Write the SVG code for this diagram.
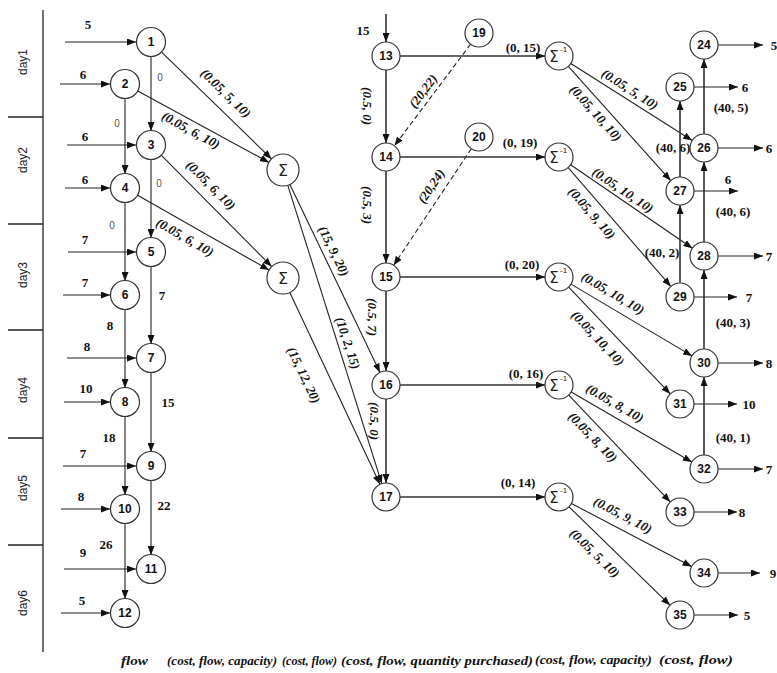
<svg xmlns="http://www.w3.org/2000/svg" width="777" height="673" viewBox="0 0 777 673">
<style>
.bg{fill:#fff}
.ax{stroke:#222;stroke-width:1.3;fill:none}
.e{stroke:#222;stroke-width:1.1;fill:none}
.et{stroke:#333;stroke-width:1.6;fill:none}
.d{stroke:#222;stroke-width:1.1;fill:none;stroke-dasharray:5,3}
.n{fill:#fff;stroke:#333;stroke-width:1.2}
.nn{font-family:"Liberation Sans",Arial,sans-serif;font-weight:bold;font-size:12px;text-anchor:middle;fill:#111}
.in{font-family:"Liberation Serif","Times New Roman",serif;font-weight:bold;font-size:13px;text-anchor:middle;fill:#111}
.el{font-family:"Liberation Serif","Times New Roman",serif;font-weight:bold;font-style:italic;font-size:13px;text-anchor:middle;fill:#111}
.lb{font-family:"Liberation Serif","Times New Roman",serif;font-weight:bold;font-size:13px;text-anchor:middle;fill:#111}
.z{font-family:"Liberation Sans",Arial,sans-serif;font-size:10px;text-anchor:middle;fill:#555}
.day{font-family:"Liberation Sans",Arial,sans-serif;font-size:12px;text-anchor:middle;fill:#222}
.sg{font-family:"DejaVu Sans","Liberation Sans",sans-serif;font-size:16px;text-anchor:middle;fill:#222}
.sgi{font-family:"DejaVu Sans","Liberation Sans",sans-serif;font-size:15px;text-anchor:middle;fill:#222}
.sup{font-family:"Liberation Sans",Arial,sans-serif;font-size:8px;fill:#222}
.lg{font-family:"Liberation Serif","Times New Roman",serif;font-weight:bold;font-style:italic;font-size:12px;fill:#111}
</style>
<defs>
<marker id="ah" viewBox="0 0 9 7" refX="9" refY="3.5" markerWidth="9" markerHeight="7" markerUnits="userSpaceOnUse" orient="auto"><path d="M0,0 L9,3.5 L0,7 z" fill="#111"/></marker>
</defs>
<rect class="bg" x="0" y="0" width="777" height="673"/>

<g id="axis">
<line class="ax" x1="43" y1="10" x2="43" y2="652"/>
<line class="ax" x1="8" y1="117" x2="43" y2="117"/>
<line class="ax" x1="8" y1="224" x2="43" y2="224"/>
<line class="ax" x1="8" y1="330" x2="43" y2="330"/>
<line class="ax" x1="8" y1="438" x2="43" y2="438"/>
<line class="ax" x1="8" y1="545" x2="43" y2="545"/>
<text class="day" transform="translate(23,62) rotate(-90)" dy="0.35em">day1</text>
<text class="day" transform="translate(23,160) rotate(-90)" dy="0.35em">day2</text>
<text class="day" transform="translate(23,275) rotate(-90)" dy="0.35em">day3</text>
<text class="day" transform="translate(23,390) rotate(-90)" dy="0.35em">day4</text>
<text class="day" transform="translate(23,488) rotate(-90)" dy="0.35em">day5</text>
<text class="day" transform="translate(23,603) rotate(-90)" dy="0.35em">day6</text>
</g>

<g id="connectors">
<!-- left inputs -->
<line class="e" x1="65" y1="42" x2="136" y2="42" marker-end="url(#ah)"/>
<line class="e" x1="60" y1="84" x2="110" y2="84" marker-end="url(#ah)"/>
<line class="e" x1="67" y1="145" x2="136" y2="145" marker-end="url(#ah)"/>
<line class="e" x1="65" y1="188" x2="110" y2="188" marker-end="url(#ah)"/>
<line class="e" x1="68" y1="252" x2="136" y2="252" marker-end="url(#ah)"/>
<line class="e" x1="63" y1="295" x2="110" y2="295" marker-end="url(#ah)"/>
<line class="e" x1="67" y1="358" x2="136" y2="358" marker-end="url(#ah)"/>
<line class="e" x1="64" y1="402" x2="110" y2="402" marker-end="url(#ah)"/>
<line class="e" x1="63" y1="466" x2="136" y2="466" marker-end="url(#ah)"/>
<line class="e" x1="61" y1="509" x2="110" y2="509" marker-end="url(#ah)"/>
<line class="e" x1="64" y1="569" x2="136" y2="569" marker-end="url(#ah)"/>
<line class="e" x1="61" y1="613" x2="110" y2="613" marker-end="url(#ah)"/>
<text class="in" x="88" y="29">5</text>
<text class="in" x="83" y="79">6</text>
<text class="in" x="85" y="141">6</text>
<text class="in" x="85" y="184">6</text>
<text class="in" x="85" y="244">7</text>
<text class="in" x="85" y="287">7</text>
<text class="in" x="87" y="351">8</text>
<text class="in" x="86" y="393">10</text>
<text class="in" x="83" y="458">7</text>
<text class="in" x="81" y="501">8</text>
<text class="in" x="83" y="557">9</text>
<text class="in" x="82" y="605">5</text>
<!-- left verticals -->
<line class="e" x1="151" y1="56" x2="151" y2="131" marker-end="url(#ah)"/>
<line class="e" x1="151" y1="159" x2="151" y2="238" marker-end="url(#ah)"/>
<line class="e" x1="151" y1="266" x2="151" y2="344" marker-end="url(#ah)"/>
<line class="e" x1="151" y1="372" x2="151" y2="452" marker-end="url(#ah)"/>
<line class="e" x1="151" y1="480" x2="151" y2="555" marker-end="url(#ah)"/>
<line class="e" x1="125" y1="98" x2="125" y2="174" marker-end="url(#ah)"/>
<line class="e" x1="125" y1="202" x2="125" y2="281" marker-end="url(#ah)"/>
<line class="e" x1="125" y1="309" x2="125" y2="388" marker-end="url(#ah)"/>
<line class="e" x1="125" y1="416" x2="125" y2="495" marker-end="url(#ah)"/>
<line class="e" x1="125" y1="523" x2="125" y2="599" marker-end="url(#ah)"/>
<text class="z" x="160" y="81">0</text>
<text class="z" x="117" y="127">0</text>
<text class="z" x="159" y="187">0</text>
<text class="z" x="112" y="229">0</text>
<text class="in" x="162" y="300">7</text>
<text class="in" x="110" y="330">8</text>
<text class="in" x="168" y="407">15</text>
<text class="in" x="109" y="442">18</text>
<text class="in" x="164" y="510">22</text>
<text class="in" x="106" y="549">26</text>
<!-- to sigma -->
<line class="e" x1="161.1" y1="51.7" x2="271.5" y2="158.9" marker-end="url(#ah)"/>
<line class="e" x1="137.3" y1="90.7" x2="269.0" y2="162.4" marker-end="url(#ah)"/>
<line class="e" x1="160.9" y1="154.9" x2="271.7" y2="266.6" marker-end="url(#ah)"/>
<line class="e" x1="137.2" y1="194.9" x2="269.1" y2="270.1" marker-end="url(#ah)"/>
<text class="el" transform="translate(226,93) rotate(44)" dy="0.35em">(0.05, 5, 10)</text>
<text class="el" transform="translate(191,130) rotate(28.5)" dy="0.35em">(0.05, 6, 10)</text>
<text class="el" transform="translate(211,185) rotate(45)" dy="0.35em">(0.05, 6, 10)</text>
<text class="el" transform="translate(185,237) rotate(29.7)" dy="0.35em">(0.05, 6, 10)</text>
<!-- sigma to 16/17 -->
<line class="e" x1="289.9" y1="184.4" x2="380.0" y2="372.4" marker-end="url(#ah)"/>
<line class="e" x1="287.8" y1="185.3" x2="381.8" y2="483.6" marker-end="url(#ah)"/>
<line class="e" x1="289.8" y1="292.5" x2="380.0" y2="484.3" marker-end="url(#ah)"/>
<text class="el" transform="translate(334,251) rotate(64)" dy="0.35em">(15, 9, 20)</text>
<text class="el" transform="translate(348,343) rotate(72)" dy="0.35em">(10, 2, 15)</text>
<text class="el" transform="translate(304,375) rotate(64.4)" dy="0.35em">(15, 12, 20)</text>
<!-- center column -->
<line class="et" x1="386" y1="14" x2="386" y2="42" marker-end="url(#ah)"/>
<text class="in" x="363" y="35">15</text>
<line class="et" x1="386" y1="70" x2="386" y2="143" marker-end="url(#ah)"/>
<line class="et" x1="386" y1="171" x2="386" y2="263" marker-end="url(#ah)"/>
<line class="et" x1="386" y1="291" x2="386" y2="371" marker-end="url(#ah)"/>
<line class="et" x1="386" y1="399" x2="386" y2="483" marker-end="url(#ah)"/>
<text class="el" transform="translate(368,106) rotate(90)" dy="0.35em">(0.5, 0)</text>
<text class="el" transform="translate(368,205) rotate(90)" dy="0.35em">(0.5, 3)</text>
<text class="el" transform="translate(373,317) rotate(90)" dy="0.35em">(0.5, 7)</text>
<text class="el" transform="translate(375,421) rotate(90)" dy="0.35em">(0.5, 0)</text>
<line class="d" x1="470.6" y1="44.2" x2="394.4" y2="145.8" marker-end="url(#ah)"/>
<line class="d" x1="471.3" y1="148.7" x2="393.7" y2="265.3" marker-end="url(#ah)"/>
<text class="el" transform="translate(423,91) rotate(-53)" dy="0.35em">(20,22)</text>
<text class="el" transform="translate(431,186) rotate(-56)" dy="0.35em">(20,24)</text>
<!-- to inverse sigma -->
<line class="et" x1="400" y1="56" x2="545" y2="56" marker-end="url(#ah)"/>
<line class="et" x1="400" y1="157" x2="545" y2="157" marker-end="url(#ah)"/>
<line class="et" x1="400" y1="277" x2="545" y2="277" marker-end="url(#ah)"/>
<line class="et" x1="400" y1="385" x2="545" y2="385" marker-end="url(#ah)"/>
<line class="et" x1="400" y1="497" x2="545" y2="497" marker-end="url(#ah)"/>
<text class="lb" x="523" y="52">(0, 15)</text>
<text class="lb" x="520" y="147">(0, 19)</text>
<text class="lb" x="522" y="269">(0, 20)</text>
<text class="lb" x="526" y="378">(0, 16)</text>
<text class="lb" x="518" y="487">(0, 14)</text>
<!-- inverse sigma to right -->
<line class="e" x1="570.8" y1="63.5" x2="692.2" y2="140.5" marker-end="url(#ah)"/>
<line class="e" x1="568.3" y1="66.4" x2="670.7" y2="180.6" marker-end="url(#ah)"/>
<line class="e" x1="570.6" y1="164.8" x2="692.4" y2="248.2" marker-end="url(#ah)"/>
<line class="e" x1="568.2" y1="167.6" x2="670.8" y2="286.4" marker-end="url(#ah)"/>
<line class="e" x1="571.0" y1="284.1" x2="692.0" y2="355.9" marker-end="url(#ah)"/>
<line class="e" x1="568.7" y1="287.1" x2="670.3" y2="393.9" marker-end="url(#ah)"/>
<line class="e" x1="571.2" y1="392.0" x2="691.8" y2="462.0" marker-end="url(#ah)"/>
<line class="e" x1="568.7" y1="395.1" x2="670.3" y2="501.9" marker-end="url(#ah)"/>
<line class="e" x1="571.4" y1="503.5" x2="691.6" y2="566.5" marker-end="url(#ah)"/>
<line class="e" x1="569.0" y1="506.8" x2="670.0" y2="605.2" marker-end="url(#ah)"/>
<text class="el" transform="translate(630,89) rotate(32.4)" dy="0.35em">(0.05, 5, 10)</text>
<text class="el" transform="translate(596,113) rotate(48)" dy="0.35em">(0.05, 10, 10)</text>
<text class="el" transform="translate(623,190) rotate(34)" dy="0.35em">(0.05, 10, 10)</text>
<text class="el" transform="translate(592,213) rotate(49)" dy="0.35em">(0.05, 9, 10)</text>
<text class="el" transform="translate(613,293) rotate(30.7)" dy="0.35em">(0.05, 10, 10)</text>
<text class="el" transform="translate(598,338) rotate(46.4)" dy="0.35em">(0.05, 10, 10)</text>
<text class="el" transform="translate(615,403) rotate(29.8)" dy="0.35em">(0.05, 8, 10)</text>
<text class="el" transform="translate(593,437) rotate(46)" dy="0.35em">(0.05, 8, 10)</text>
<text class="el" transform="translate(623,515) rotate(27.7)" dy="0.35em">(0.05, 9, 10)</text>
<text class="el" transform="translate(595,553) rotate(44.3)" dy="0.35em">(0.05, 5, 10)</text>
<!-- right verticals -->
<line class="et" x1="704" y1="134" x2="704" y2="59" marker-end="url(#ah)"/>
<line class="et" x1="680" y1="177" x2="680" y2="101" marker-end="url(#ah)"/>
<line class="et" x1="704" y1="242" x2="704" y2="162" marker-end="url(#ah)"/>
<line class="et" x1="680" y1="283" x2="680" y2="205" marker-end="url(#ah)"/>
<line class="et" x1="704" y1="349" x2="704" y2="270" marker-end="url(#ah)"/>
<line class="et" x1="704" y1="455" x2="704" y2="377" marker-end="url(#ah)"/>
<text class="lb" x="731" y="112">(40, 5)</text>
<text class="lb" x="673" y="152">(40, 6)</text>
<text class="lb" x="733" y="216">(40, 6)</text>
<text class="lb" x="662" y="257">(40, 2)</text>
<text class="lb" x="733" y="327">(40, 3)</text>
<text class="lb" x="733" y="442">(40, 1)</text>
<!-- outputs -->
<line class="e" x1="718" y1="45" x2="763" y2="45" marker-end="url(#ah)"/>
<line class="e" x1="694" y1="87" x2="738" y2="87" marker-end="url(#ah)"/>
<line class="e" x1="718" y1="148" x2="763" y2="148" marker-end="url(#ah)"/>
<line class="e" x1="694" y1="191" x2="738" y2="191" marker-end="url(#ah)"/>
<line class="e" x1="718" y1="256" x2="763" y2="256" marker-end="url(#ah)"/>
<line class="e" x1="694" y1="297" x2="737" y2="297" marker-end="url(#ah)"/>
<line class="e" x1="717" y1="363" x2="763" y2="363" marker-end="url(#ah)"/>
<line class="e" x1="694" y1="404" x2="737" y2="404" marker-end="url(#ah)"/>
<line class="e" x1="717" y1="469" x2="763" y2="469" marker-end="url(#ah)"/>
<line class="e" x1="694" y1="512" x2="737" y2="512" marker-end="url(#ah)"/>
<line class="e" x1="718" y1="573" x2="760" y2="573" marker-end="url(#ah)"/>
<line class="e" x1="694" y1="615" x2="738" y2="615" marker-end="url(#ah)"/>
<text class="in" x="774" y="50">5</text>
<text class="in" x="745" y="92">6</text>
<text class="in" x="769" y="153">6</text>
<text class="in" x="728" y="184">6</text>
<text class="in" x="769" y="261">7</text>
<text class="in" x="749" y="302">7</text>
<text class="in" x="769" y="368">8</text>
<text class="in" x="749" y="409">10</text>
<text class="in" x="769" y="474">7</text>
<text class="in" x="742" y="517">8</text>
<text class="in" x="773" y="578">9</text>
<text class="in" x="747" y="620">5</text>
</g>

<g id="n1"><circle class="n" cx="151" cy="42" r="14.5"/><text class="nn" x="151" y="46">1</text></g>
<g id="n2"><circle class="n" cx="125" cy="84" r="14.5"/><text class="nn" x="125" y="88">2</text></g>
<g id="n3"><circle class="n" cx="151" cy="145" r="14.5"/><text class="nn" x="151" y="149">3</text></g>
<g id="n4"><circle class="n" cx="125" cy="188" r="14.5"/><text class="nn" x="125" y="192">4</text></g>
<g id="n5"><circle class="n" cx="151" cy="252" r="14.5"/><text class="nn" x="151" y="256">5</text></g>
<g id="n6"><circle class="n" cx="125" cy="295" r="14.5"/><text class="nn" x="125" y="299">6</text></g>
<g id="n7"><circle class="n" cx="151" cy="358" r="14.5"/><text class="nn" x="151" y="362">7</text></g>
<g id="n8"><circle class="n" cx="125" cy="402" r="14.5"/><text class="nn" x="125" y="406">8</text></g>
<g id="n9"><circle class="n" cx="151" cy="466" r="14.5"/><text class="nn" x="151" y="470">9</text></g>
<g id="n10"><circle class="n" cx="125" cy="509" r="14.5"/><text class="nn" x="125" y="513">10</text></g>
<g id="n11"><circle class="n" cx="151" cy="569" r="14.5"/><text class="nn" x="151" y="573">11</text></g>
<g id="n12"><circle class="n" cx="125" cy="613" r="14.5"/><text class="nn" x="125" y="617">12</text></g>

<g id="sigma1"><circle class="n" cx="283" cy="170" r="16"/><text class="sg" x="283" y="176">Σ</text></g>
<g id="sigma2"><circle class="n" cx="283" cy="278" r="16"/><text class="sg" x="283" y="284">Σ</text></g>

<g id="n13"><circle class="n" cx="386" cy="56" r="14"/><text class="nn" x="386" y="60">13</text></g>
<g id="n14"><circle class="n" cx="386" cy="157" r="14"/><text class="nn" x="386" y="161">14</text></g>
<g id="n15"><circle class="n" cx="386" cy="277" r="14"/><text class="nn" x="386" y="281">15</text></g>
<g id="n16"><circle class="n" cx="386" cy="385" r="14"/><text class="nn" x="386" y="389">16</text></g>
<g id="n17"><circle class="n" cx="386" cy="497" r="14"/><text class="nn" x="386" y="501">17</text></g>
<g id="n19"><circle class="n" cx="479" cy="33" r="14"/><text class="nn" x="479" y="37">19</text></g>
<g id="n20"><circle class="n" cx="479" cy="137" r="14"/><text class="nn" x="479" y="141">20</text></g>

<g id="inv1"><circle class="n" cx="559" cy="56" r="14"/><text class="sgi" x="554" y="62">Σ</text><text class="sup" x="560" y="52">-1</text></g>
<g id="inv2"><circle class="n" cx="559" cy="157" r="14"/><text class="sgi" x="554" y="163">Σ</text><text class="sup" x="560" y="153">-1</text></g>
<g id="inv3"><circle class="n" cx="559" cy="277" r="14"/><text class="sgi" x="554" y="283">Σ</text><text class="sup" x="560" y="273">-1</text></g>
<g id="inv4"><circle class="n" cx="559" cy="385" r="14"/><text class="sgi" x="554" y="391">Σ</text><text class="sup" x="560" y="381">-1</text></g>
<g id="inv5"><circle class="n" cx="559" cy="497" r="14"/><text class="sgi" x="554" y="503">Σ</text><text class="sup" x="560" y="493">-1</text></g>

<g id="n24"><circle class="n" cx="704" cy="45" r="14"/><text class="nn" x="704" y="49">24</text></g>
<g id="n25"><circle class="n" cx="680" cy="87" r="14"/><text class="nn" x="680" y="91">25</text></g>
<g id="n26"><circle class="n" cx="704" cy="148" r="14"/><text class="nn" x="704" y="152">26</text></g>
<g id="n27"><circle class="n" cx="680" cy="191" r="14"/><text class="nn" x="680" y="195">27</text></g>
<g id="n28"><circle class="n" cx="704" cy="256" r="14"/><text class="nn" x="704" y="260">28</text></g>
<g id="n29"><circle class="n" cx="680" cy="297" r="14"/><text class="nn" x="680" y="301">29</text></g>
<g id="n30"><circle class="n" cx="704" cy="363" r="14"/><text class="nn" x="704" y="367">30</text></g>
<g id="n31"><circle class="n" cx="680" cy="404" r="14"/><text class="nn" x="680" y="408">31</text></g>
<g id="n32"><circle class="n" cx="704" cy="469" r="14"/><text class="nn" x="704" y="473">32</text></g>
<g id="n33"><circle class="n" cx="680" cy="512" r="14"/><text class="nn" x="680" y="516">33</text></g>
<g id="n34"><circle class="n" cx="704" cy="573" r="14"/><text class="nn" x="704" y="577">34</text></g>
<g id="n35"><circle class="n" cx="680" cy="615" r="14"/><text class="nn" x="680" y="619">35</text></g>

<g id="legend">
<text class="lg" x="121" y="665" font-size="13" textLength="27" lengthAdjust="spacingAndGlyphs">flow</text>
<text class="lg" x="167" y="665" textLength="110" lengthAdjust="spacingAndGlyphs">(cost, flow, capacity)</text>
<text class="lg" x="282" y="665" textLength="55" lengthAdjust="spacingAndGlyphs">(cost, flow)</text>
<text class="lg" x="341" y="665" textLength="192" lengthAdjust="spacingAndGlyphs">(cost, flow, quantity purchased)</text>
<text class="lg" x="535" y="664" textLength="117" lengthAdjust="spacingAndGlyphs">(cost, flow, capacity)</text>
<text class="lg" x="659" y="664" textLength="74" lengthAdjust="spacingAndGlyphs">(cost, flow)</text>
</g>
</svg>
